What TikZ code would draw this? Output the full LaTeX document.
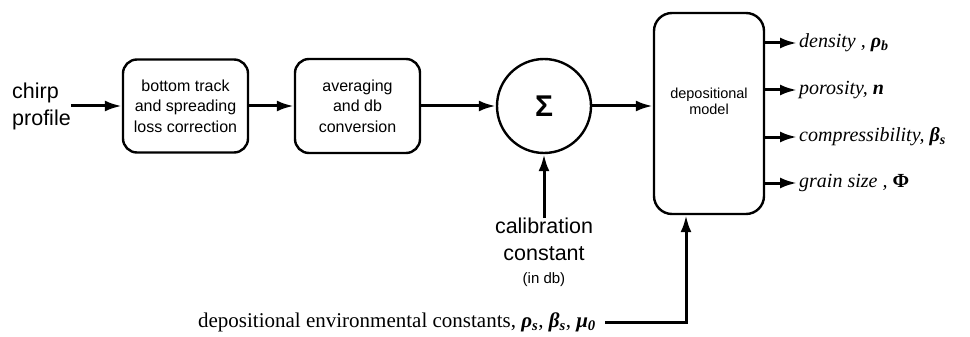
\documentclass[tikz,border=0pt]{standalone}
\usepackage{fontspec}
\setmainfont{Liberation Serif}
\setsansfont{Liberation Sans}
\usetikzlibrary{arrows.meta}
\begin{document}
\begin{tikzpicture}[x=1pt,y=-1pt,
  conn/.style={line width=3pt,-{Latex[length=17pt,width=11pt]}},
  blk/.style={draw,line width=2.4pt,rounded corners=14pt,inner sep=0pt,
    font=\sffamily\fontsize{16}{20.5}\selectfont,align=center},
  big/.style={font=\sffamily\fontsize{21.5}{27}\selectfont},
  outlab/.style={anchor=west,inner sep=2pt,font=\fontsize{20}{24}\selectfont\itshape},
  gr/.style={font=\bfseries\itshape}]
\useasboundingbox (0,0) rectangle (970,337);

\node[big,align=left,anchor=west,inner sep=0pt] (chirp) at (12,106) {chirp\\profile};
\node[blk,minimum width=125pt,minimum height=93pt] (b1) at (185.5,106) {bottom track\\and spreading\\loss correction};
\node[blk,minimum width=125pt,minimum height=94pt] (b2) at (357.5,106) {averaging\\and db\\conversion};
\node[draw,circle,line width=2.4pt,minimum size=94pt,inner sep=0pt,font=\sffamily\bfseries\fontsize{30}{32}\selectfont] (sum) at (544,106) {Σ};
\node[draw,line width=2.4pt,rounded corners=18pt,minimum width=110pt,minimum height=201pt] (model) at (709,113.5) {};
\node[font=\sffamily\fontsize{14.5}{16}\selectfont,align=center,inner sep=0pt] (modeltxt) at (709,101) {depositional\\model};

\node[big,align=center,inner sep=0pt,anchor=north] (cal) at (544,218) {calibration\\constant};
\node[font=\sffamily\fontsize{15}{16}\selectfont,inner sep=0pt] (caldb) at (544,280) {(in db)};

\node[anchor=east,inner sep=0pt,font=\fontsize{21}{24}\selectfont] (env) at (596,322)
  {depositional environmental constants,\ \textbf{\textit{ρ\textsubscript{s}}}, \textbf{\textit{β\textsubscript{s}}}, \textbf{\textit{μ\textsubscript{0}}}};

\node[outlab] (o1) at (797,43) {density , \textbf{ρ\textsubscript{b}}};
\node[outlab] (o2) at (797,90) {porosity, \textbf{n}};
\node[outlab] (o3) at (797,137) {compressibility, \textbf{β\textsubscript{s}}};
\node[outlab] (o4) at (797,183) {grain size , \textbf{\upshape Φ}};

\draw[conn] (chirp.east) -- (b1.west);
\draw[conn] (b1.east) -- (b2.west);
\draw[conn] (b2.east) -- (sum.west);
\draw[conn] (sum.east) -- (sum.east -| model.west);
\draw[conn] (cal.north) -- (sum.south);
\draw[conn] (env.east) ++(9,0) -| ([xshift=-23pt]model.south);
\foreach \o in {o1,o2,o3,o4}
  \draw[conn] (model.east |- \o.west) -- (\o.west);
\end{tikzpicture}
\end{document}
